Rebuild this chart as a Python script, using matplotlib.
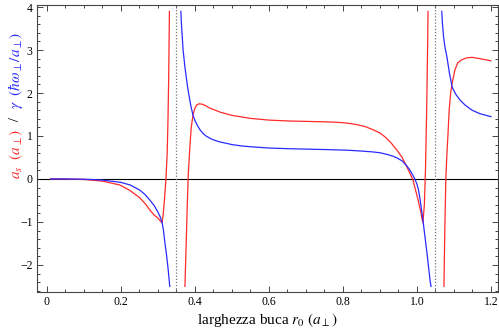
import numpy as np
import matplotlib
matplotlib.use("Agg")
import matplotlib.pyplot as plt
from matplotlib.ticker import MultipleLocator

plt.rcParams['font.family'] = ['Liberation Serif', 'DejaVu Serif']
plt.rcParams['mathtext.fontset'] = 'stix'

# a_s (red), three branches
red1_x = [0.01, 0.05, 0.1, 0.15, 0.197, 0.225, 0.251, 0.265, 0.278, 0.29, 0.3, 0.306, 0.311,
          0.314, 0.317, 0.32, 0.322, 0.325, 0.327, 0.329, 0.331]
red1_y = [0, -0.002, -0.012, -0.05, -0.14, -0.27, -0.44, -0.57, -0.72, -0.84, -0.91, -0.97, -1.02,
          -0.85, -0.55, -0.2, 0.05, 0.6, 1.3, 2.3, 3.9]
red2_x = [0.373, 0.376, 0.379, 0.382, 0.386, 0.39, 0.395, 0.4, 0.405, 0.411, 0.42, 0.43, 0.44,
          0.455, 0.47, 0.5, 0.55, 0.6, 0.65, 0.7, 0.75, 0.78, 0.8, 0.82, 0.84, 0.86, 0.88, 0.9,
          0.915, 0.93, 0.946, 0.96, 0.97, 0.98, 0.989, 0.996, 1.003, 1.01, 1.016, 1.02, 1.023,
          1.026, 1.028, 1.03]
red2_y = [-2.5, -1.6, -0.7, 0.1, 0.7, 1.2, 1.5, 1.65, 1.72, 1.75, 1.74, 1.7, 1.65,
          1.6, 1.55, 1.48, 1.41, 1.37, 1.35, 1.34, 1.33, 1.32, 1.31, 1.29, 1.26, 1.22, 1.15, 1.07,
          0.97, 0.84, 0.67, 0.5, 0.33, 0.15, -0.02, -0.25, -0.49, -0.75, -1.02, -0.6, 0.2,
          1.5, 2.6, 3.9]
red3_x = [1.073, 1.075, 1.078, 1.081, 1.084, 1.087, 1.091, 1.095, 1.103, 1.11, 1.12, 1.135, 1.149, 1.17, 1.2]
red3_y = [-2.5, -1.3, 0, 0.6, 1.07, 1.6, 2.0, 2.23, 2.55, 2.7, 2.77, 2.82, 2.83, 2.8, 2.75]

# gamma (blue), three branches
blue1_x = [0.01, 0.05, 0.1, 0.15, 0.2, 0.225, 0.251, 0.265, 0.278, 0.29, 0.3, 0.306, 0.311,
           0.315, 0.319, 0.323, 0.327, 0.332]
blue1_y = [0, 0, -0.005, -0.025, -0.08, -0.14, -0.26, -0.36, -0.49, -0.62, -0.77, -0.88, -1.0,
           -1.2, -1.49, -1.75, -2.05, -2.5]
blue2_x = [0.362, 0.3635, 0.365, 0.3665, 0.368, 0.3705, 0.373, 0.3765, 0.38, 0.383, 0.386, 0.39,
           0.395, 0.4, 0.407, 0.414, 0.422, 0.43, 0.44, 0.45, 0.468, 0.485, 0.5, 0.525, 0.55, 0.6,
           0.65, 0.7, 0.75, 0.81, 0.85, 0.88, 0.9, 0.92, 0.935, 0.946, 0.96, 0.97, 0.98, 0.986,
           0.993, 1.0, 1.004, 1.008, 1.012, 1.016, 1.021, 1.027, 1.032, 1.036, 1.038]
blue2_y = [3.9, 3.6, 3.4, 3.2, 3.0, 2.8, 2.6, 2.37, 2.15, 1.99, 1.84, 1.66,
           1.48, 1.36, 1.24, 1.14, 1.06, 1.0, 0.95, 0.91, 0.86, 0.83, 0.8, 0.77, 0.75, 0.72,
           0.705, 0.695, 0.685, 0.67, 0.65, 0.63, 0.61, 0.57, 0.53, 0.49, 0.42, 0.33, 0.22, 0.13,
           0.02, -0.12, -0.25, -0.45, -0.7, -0.95, -1.3, -1.72, -2.1, -2.4, -2.5]
blue3_x = [1.067, 1.069, 1.072, 1.076, 1.081, 1.088, 1.095, 1.105, 1.116, 1.13, 1.149, 1.17, 1.2]
blue3_y = [3.9, 3.6, 3.3, 3.05, 2.84, 2.45, 2.14, 1.97, 1.84, 1.72, 1.6, 1.52, 1.45]

poles = [0.35, 1.05]
xtick_vals = [0, 0.2, 0.4, 0.6, 0.8, 1.0, 1.2]
xtick_labels = ['0', '0.2', '0.4', '0.6', '0.8', '1.0', '1.2']
ytick_vals = [-2, -1, 0, 1, 2, 3, 4]
ytick_labels = ['\u22122', '\u22121', '0', '1', '2', '3', '4']

red = '#ff2a2a'
blue = '#2a2aff'

fig = plt.figure(figsize=(4.99, 3.29), dpi=100)
ax = fig.add_axes([0.074, 0.1125, 0.924, 0.8725])

ax.axhline(0, color='black', lw=0.8)
for p in poles:
    ax.axvline(p, color='#777777', lw=0.9, ls=(0, (1, 1.5)))

for xs, ys in [(red1_x, red1_y), (red2_x, red2_y), (red3_x, red3_y)]:
    ax.plot(xs, ys, color=red, lw=0.9)
for xs, ys in [(blue1_x, blue1_y), (blue2_x, blue2_y), (blue3_x, blue3_y)]:
    ax.plot(xs, ys, color=blue, lw=0.9)

ax.set_xlim(-0.027, 1.219)
ax.set_ylim(-2.63, 4.05)
ax.set_xticks(xtick_vals)
ax.set_xticklabels(xtick_labels)
ax.set_yticks(ytick_vals)
ax.set_yticklabels(ytick_labels)
ax.xaxis.set_minor_locator(MultipleLocator(0.05))
ax.yaxis.set_minor_locator(MultipleLocator(0.2))
ax.tick_params(which='both', direction='in', top=True, right=True, labelsize=8.5,
               color='#444444', width=0.7, pad=3)
ax.tick_params(which='major', length=4)
ax.tick_params(which='minor', length=2)
for s in ax.spines.values():
    s.set_color('#444444')
    s.set_linewidth(0.8)

ax.set_xlabel(r'larghezza buca $r_0$ $\left(a_\perp\right)$', fontsize=11, labelpad=2)

# multi-colour y label, stacked bottom to top
pieces = [(r'$a_s\ \ (a_\perp)$', red), (r'  /  ', 'black'),
          (r'$\gamma\ \ (\hbar\omega_\perp/a_\perp)$', blue)]
fig.canvas.draw()
r = fig.canvas.get_renderer()
ypos = 0.455
for txt, col in pieces:
    t = fig.text(0.032, ypos, txt, color=col, rotation=90, fontsize=11,
                 ha='center', va='bottom')
    bb = t.get_window_extent(renderer=r)
    ypos += bb.height / fig.bbox.height

fig.savefig('out.png', dpi=100)
